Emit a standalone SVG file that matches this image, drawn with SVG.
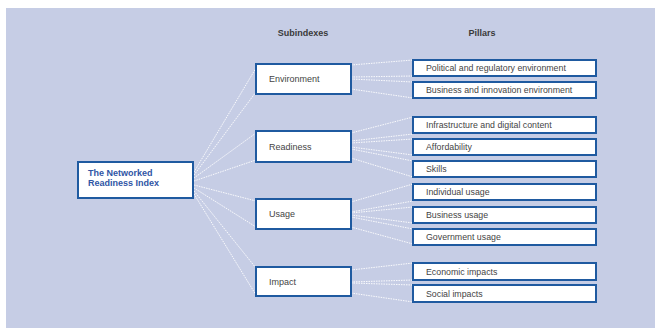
<svg xmlns="http://www.w3.org/2000/svg" width="655" height="328" viewBox="0 0 655 328">
  <style>
    .bg { fill: #c6cde5; }
    .box { fill: #ffffff; stroke: #1f5aa0; stroke-width: 2; }
    .hdr { font-family: "Liberation Sans", Arial, sans-serif; font-size: 9px; font-weight: bold; fill: #3a3a3a; text-anchor: middle; }
    .root { font-family: "Liberation Sans", Arial, sans-serif; font-size: 9px; font-weight: bold; fill: #2f55a5; }
    .sub { font-family: "Liberation Sans", Arial, sans-serif; font-size: 9px; fill: #444444; dominant-baseline: central; }
    .pil { font-family: "Liberation Sans", Arial, sans-serif; font-size: 8.8px; fill: #444444; dominant-baseline: central; }
    .link { fill: none; stroke: #ffffff; stroke-width: 1; stroke-dasharray: 1.5 1; opacity: 0.9; }
  </style>

  <rect class="bg" x="6" y="8" width="649" height="320"/>

  <!-- column headings -->
  <text class="hdr" x="303" y="36">Subindexes</text>
  <text class="hdr" x="482" y="36">Pillars</text>

  <!-- dotted connectors -->
  <g id="connectors">
    <!-- index to subindexes -->
    <line class="link" x1="194" y1="172" x2="256" y2="68"/>
    <line class="link" x1="194" y1="175" x2="256" y2="92"/>
    <line class="link" x1="194" y1="178" x2="256" y2="133"/>
    <line class="link" x1="194" y1="181" x2="256" y2="160"/>
    <line class="link" x1="194" y1="185" x2="256" y2="201"/>
    <line class="link" x1="194" y1="188" x2="256" y2="227"/>
    <line class="link" x1="194" y1="191" x2="256" y2="268"/>
    <line class="link" x1="194" y1="194" x2="256" y2="295"/>
    <!-- Environment to pillars -->
    <line class="link" x1="351" y1="65" x2="413" y2="60"/>
    <line class="link" x1="351" y1="77" x2="413" y2="76"/>
    <line class="link" x1="351" y1="79" x2="413" y2="82"/>
    <line class="link" x1="351" y1="89" x2="413" y2="98"/>
    <!-- Readiness to pillars -->
    <line class="link" x1="351" y1="133" x2="413" y2="117"/>
    <line class="link" x1="351" y1="141" x2="413" y2="134"/>
    <line class="link" x1="351" y1="143" x2="413" y2="139"/>
    <line class="link" x1="351" y1="147" x2="413" y2="155"/>
    <line class="link" x1="351" y1="149" x2="413" y2="161"/>
    <line class="link" x1="351" y1="158" x2="413" y2="177"/>
    <!-- Usage to pillars -->
    <line class="link" x1="351" y1="202" x2="413" y2="184"/>
    <line class="link" x1="351" y1="212" x2="413" y2="201"/>
    <line class="link" x1="351" y1="213" x2="413" y2="207"/>
    <line class="link" x1="351" y1="215" x2="413" y2="223"/>
    <line class="link" x1="351" y1="217" x2="413" y2="229"/>
    <line class="link" x1="351" y1="227" x2="413" y2="244"/>
    <!-- Impact to pillars -->
    <line class="link" x1="351" y1="270" x2="413" y2="263"/>
    <line class="link" x1="351" y1="282" x2="413" y2="280"/>
    <line class="link" x1="351" y1="283" x2="413" y2="285"/>
    <line class="link" x1="351" y1="293" x2="413" y2="302"/>
  </g>

  <!-- index -->
  <g id="nri">
    <rect class="box" x="78" y="162" width="115" height="36"/>
    <text class="root" x="88" y="176">The Networked</text>
    <text class="root" x="88" y="186">Readiness Index</text>
  </g>

  <!-- subindexes -->
  <g id="environment">
    <rect class="box" x="256" y="64" width="95" height="30"/>
    <text class="sub" x="269" y="79">Environment</text>
  </g>
  <g id="readiness">
    <rect class="box" x="256" y="131" width="95" height="31"/>
    <text class="sub" x="269" y="146.5">Readiness</text>
  </g>
  <g id="usage">
    <rect class="box" x="256" y="199" width="95" height="30"/>
    <text class="sub" x="269" y="214">Usage</text>
  </g>
  <g id="impact">
    <rect class="box" x="256" y="267" width="95" height="29"/>
    <text class="sub" x="269" y="281.5">Impact</text>
  </g>

  <!-- pillars -->
  <g id="p-political">
    <rect class="box" x="413" y="60" width="183" height="16"/>
    <text class="pil" x="426" y="68">Political and regulatory environment</text>
  </g>
  <g id="p-business-env">
    <rect class="box" x="413" y="82" width="183" height="16"/>
    <text class="pil" x="426" y="90">Business and innovation environment</text>
  </g>
  <g id="p-infrastructure">
    <rect class="box" x="413" y="117" width="183" height="16"/>
    <text class="pil" x="426" y="125">Infrastructure and digital content</text>
  </g>
  <g id="p-affordability">
    <rect class="box" x="413" y="139" width="183" height="16"/>
    <text class="pil" x="426" y="147">Affordability</text>
  </g>
  <g id="p-skills">
    <rect class="box" x="413" y="161" width="183" height="16"/>
    <text class="pil" x="426" y="169">Skills</text>
  </g>
  <g id="p-individual">
    <rect class="box" x="413" y="184" width="183" height="16"/>
    <text class="pil" x="426" y="192">Individual usage</text>
  </g>
  <g id="p-business-usage">
    <rect class="box" x="413" y="207" width="183" height="16"/>
    <text class="pil" x="426" y="215">Business usage</text>
  </g>
  <g id="p-government">
    <rect class="box" x="413" y="229" width="183" height="16"/>
    <text class="pil" x="426" y="237">Government usage</text>
  </g>
  <g id="p-economic">
    <rect class="box" x="413" y="263" width="183" height="17"/>
    <text class="pil" x="426" y="271.5">Economic impacts</text>
  </g>
  <g id="p-social">
    <rect class="box" x="413" y="285" width="183" height="17"/>
    <text class="pil" x="426" y="293.5">Social impacts</text>
  </g>
</svg>
